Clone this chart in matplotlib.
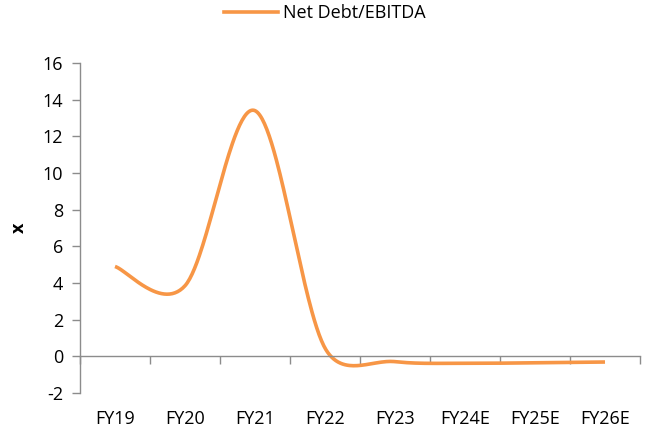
import numpy as np
import matplotlib
matplotlib.use("Agg")
import matplotlib.pyplot as plt
from matplotlib.lines import Line2D

# Net Debt/EBITDA by fiscal year (x)
years = ["FY19", "FY20", "FY21", "FY22", "FY23", "FY24E", "FY25E", "FY26E"]
net_debt_ebitda = [4.9, 3.85, 13.4, 0.45, -0.29, -0.38, -0.35, -0.31]

y_ticks = [-2, 0, 2, 4, 6, 8, 10, 12, 14, 16]

LINE_COLOR = "#F79646"
AXIS_COLOR = "#8C8C8C"
FONT = "Open Sans"
FS = 13

plt.rcParams["font.family"] = [FONT, "DejaVu Sans"]


def smooth_curve(xs, ys, sx, sy, n=60):
    """Spreadsheet-style smoothed line: cubic Bezier segments with
    Catmull-Rom handles (chord / 6), each handle capped at half the length
    of its own segment. Distances are measured in screen proportions."""
    P = np.column_stack([np.asarray(xs, float) * sx, np.asarray(ys, float) * sy])
    m = len(P)
    t = np.linspace(0, 1, n)[1:, None]
    out = [P[0]]
    for i in range(m - 1):
        p0 = P[i - 1] if i > 0 else P[i]
        p1, p2 = P[i], P[i + 1]
        p3 = P[i + 2] if i + 2 < m else P[i + 1]
        d12 = np.linalg.norm(p2 - p1)
        ch1 = p2 - p0
        ch2 = p3 - p1
        f1 = 1 / 6
        f2 = 1 / 6
        n1 = np.linalg.norm(ch1)
        n2 = np.linalg.norm(ch2)
        if n1 / 6 > d12 / 2:
            f1 = d12 / 2 / n1
        if n2 / 6 > d12 / 2:
            f2 = d12 / 2 / n2
        c1 = p1 + ch1 * f1
        c2 = p2 - ch2 * f2
        seg = (1 - t) ** 3 * p1 + 3 * (1 - t) ** 2 * t * c1 + 3 * (1 - t) * t ** 2 * c2 + t ** 3 * p2
        out.extend(seg)
    out = np.array(out)
    return out[:, 0] / sx, out[:, 1] / sy


fig = plt.figure(figsize=(6.5, 4.32), dpi=100)
ax = fig.add_axes([80 / 650, 39 / 432, 560 / 650, 330 / 432])

n = len(years)
xpos = np.arange(n)
ax.set_xlim(-0.5, n - 0.5)
ax.set_ylim(-2, 16)

# screen scale (pixels per data unit) for the smoothing
bbox = ax.get_window_extent()
sx = bbox.width / n
sy = bbox.height / 18

xs, ys = smooth_curve(xpos, net_debt_ebitda, sx, sy)
ax.plot(xs, ys, color=LINE_COLOR, lw=2.6, solid_capstyle="butt",
        label="Net Debt/EBITDA")

# axes styling
for s in ["top", "right"]:
    ax.spines[s].set_visible(False)
ax.spines["left"].set_color(AXIS_COLOR)
ax.spines["bottom"].set_color(AXIS_COLOR)
ax.spines["bottom"].set_position(("data", 0))
ax.spines["left"].set_linewidth(1.0)
ax.spines["bottom"].set_linewidth(1.0)

ax.set_yticks(y_ticks)
ax.set_yticklabels([str(v) for v in y_ticks])
ax.tick_params(axis="y", direction="out", length=6, width=1.0,
               color=AXIS_COLOR, labelsize=FS, pad=6, labelcolor="#000000")

# category boundaries as ticks on the zero line, labels at the bottom
ax.set_xticks(np.arange(n + 1) - 0.5)
ax.set_xticklabels([])
ax.tick_params(axis="x", direction="out", length=6, width=1.0, color=AXIS_COLOR)
for x, lab in zip(xpos, years):
    ax.text(x, -0.08, lab, transform=ax.get_xaxis_transform(),
            ha="center", va="center", fontsize=FS, color="#000000")

ax.set_ylabel("x", fontsize=FS, fontweight="bold", rotation=90)
ax.yaxis.set_label_coords(-0.093, 0.5)

handle = Line2D([], [], color=LINE_COLOR, lw=2.6)
fig.legend([handle], ["Net Debt/EBITDA"], loc="center",
           bbox_to_anchor=(0.5, 1 - 13 / 432), frameon=False,
           fontsize=FS, handlelength=3.0, handletextpad=0.3)

fig.savefig("out.png", dpi=100)
